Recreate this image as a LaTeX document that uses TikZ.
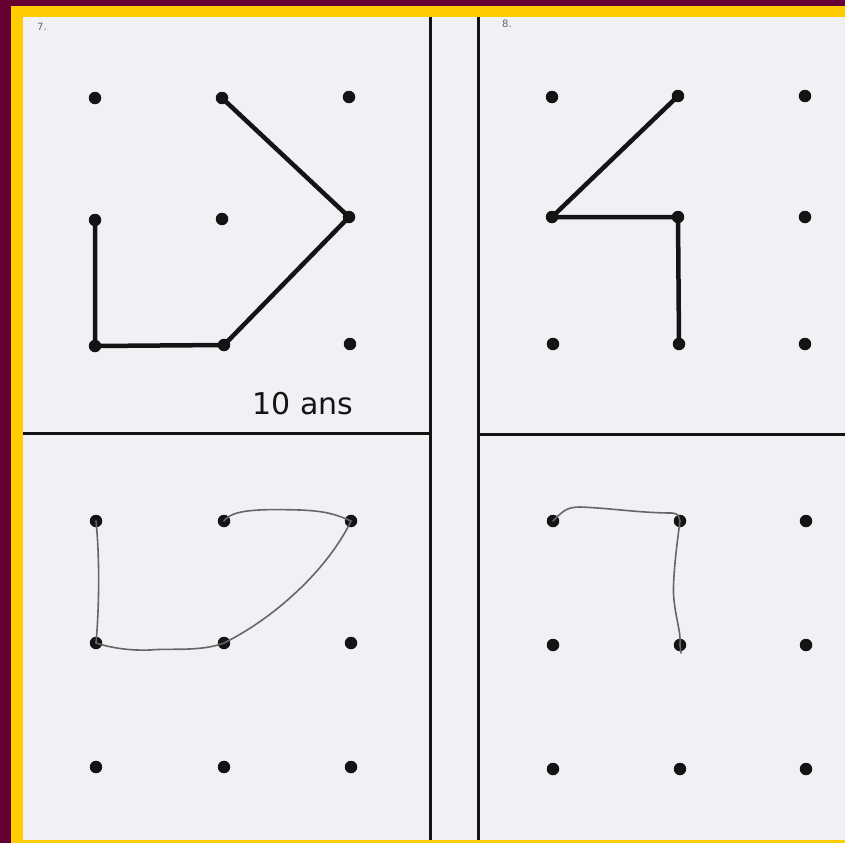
\documentclass[tikz,border=0pt]{standalone}
\usepackage{fontspec}
\newfontfamily\labelfont{DejaVu Sans}
\definecolor{maroon}{HTML}{660033}
\definecolor{gold}{HTML}{FFCC00}
\definecolor{paper}{HTML}{F1F1F5}
\definecolor{ink}{HTML}{141414}
\definecolor{pencil}{HTML}{666666}
\begin{document}
\begin{tikzpicture}[x=1pt,y=-1pt,
  pt/.style={circle,fill=ink,inner sep=0pt,minimum size=12.5pt},
  frame/.style={draw=ink,line width=3pt},
  bold/.style={draw=ink,line width=4.5pt,line cap=round,line join=round},
  hand/.style={draw=pencil,line width=1.6pt,line cap=round}]
\fill[maroon] (0,0) rectangle (845,843);
\useasboundingbox (0,0) rectangle (845,843);
\fill[gold] (11,6) rectangle (845,843);
\fill[paper] (23,17) rectangle (845,840);
% frame lines
\coordinate (v1t) at (430,17); \coordinate (v1b) at (430,840);
\coordinate (v2t) at (478,17); \coordinate (v2b) at (478,840);
\coordinate (hl1) at (23,433); \coordinate (hl2) at (430,433);
\coordinate (hr1) at (478,434); \coordinate (hr2) at (845,434);
\draw[frame] (v1t) -- (v1b);
\draw[frame] (v2t) -- (v2b);
\draw[frame] (hl1) -- (hl2);
\draw[frame] (hr1) -- (hr2);
% labels
\node[font=\labelfont\fontsize{10}{10}\selectfont,text=pencil] (l7) at (42,27) {7.};
\node[font=\labelfont\fontsize{10}{10}\selectfont,text=pencil] (l8) at (507,24) {8.};
\node[font=\labelfont\fontsize{30}{30}\selectfont,text=ink] (age) at (303,404) {10 ans};
% top-left dots
\node[pt] (a11) at (95,98) {};  \node[pt] (a12) at (222,98) {};  \node[pt] (a13) at (349,97) {};
\node[pt] (a21) at (95,220) {}; \node[pt] (a22) at (222,219) {}; \node[pt] (a23) at (349,217) {};
\node[pt] (a31) at (95,346) {}; \node[pt] (a32) at (224,345) {}; \node[pt] (a33) at (350,344) {};
% top-right dots
\node[pt] (b11) at (552,97) {};  \node[pt] (b12) at (678,96) {};  \node[pt] (b13) at (805,96) {};
\node[pt] (b21) at (552,217) {}; \node[pt] (b22) at (678,217) {}; \node[pt] (b23) at (805,217) {};
\node[pt] (b31) at (553,344) {}; \node[pt] (b32) at (679,344) {}; \node[pt] (b33) at (805,344) {};
% bottom-left dots
\node[pt] (c11) at (96,521) {};  \node[pt] (c12) at (224,521) {}; \node[pt] (c13) at (351,521) {};
\node[pt] (c21) at (96,643) {};  \node[pt] (c22) at (224,643) {}; \node[pt] (c23) at (351,643) {};
\node[pt] (c31) at (96,767) {};  \node[pt] (c32) at (224,767) {}; \node[pt] (c33) at (351,767) {};
% bottom-right dots
\node[pt] (d11) at (553,521) {}; \node[pt] (d12) at (680,521) {}; \node[pt] (d13) at (806,521) {};
\node[pt] (d21) at (553,645) {}; \node[pt] (d22) at (680,645) {}; \node[pt] (d23) at (806,645) {};
\node[pt] (d31) at (553,769) {}; \node[pt] (d32) at (680,769) {}; \node[pt] (d33) at (806,769) {};
% model figures
\draw[bold] (a12.center) -- (a23.center) -- (a32.center) -- (a31.center) -- (a21.center);
\draw[bold] (b12.center) -- (b21.center) -- (b22.center) -- (b32.center);
% child's copies
\draw[hand] (c12.center) .. controls (232,509) and (262,509) .. (300,510)
  .. controls (325,511) and (335,514) .. (c13.center);
\draw[hand] (c13.center) .. controls (330,565) and (280,615) .. (c22.center);
\draw[hand] (c22.center) .. controls (200,652) and (170,648) .. (150,650)
  .. controls (125,651) and (105,646) .. (c21.center);
\draw[hand] (c21.center) .. controls (99,610) and (100,560) .. (c11.center);
\draw[hand] (d11.center) .. controls (562,512) and (566,507) .. (580,507)
  .. controls (610,508) and (640,513) .. (672,513) .. controls (678,514) .. (d12.center);
\draw[hand] (d12.center) .. controls (676,550) and (672,585) .. (674,600)
  .. controls (676,620) and (681,632) .. (d22.center) -- (681,653);
\end{tikzpicture}
\end{document}
